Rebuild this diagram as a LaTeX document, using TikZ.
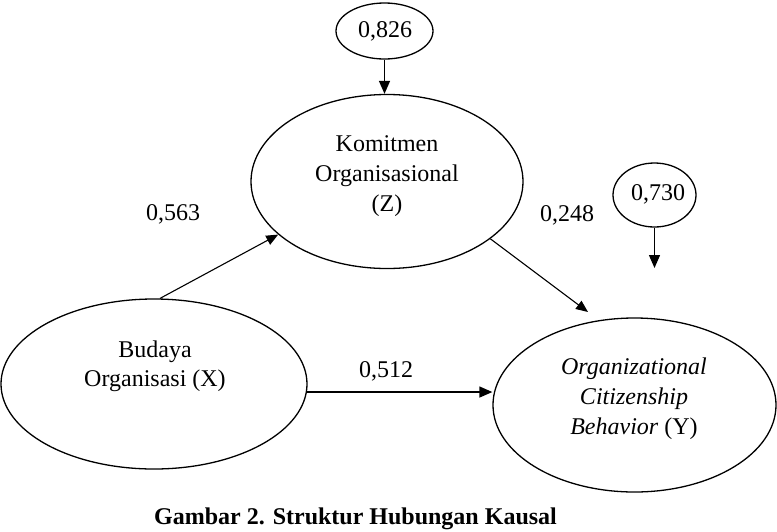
\documentclass[tikz,border=0pt]{standalone}
\usepackage{fontspec}
\setmainfont{Liberation Serif}
\usetikzlibrary{shapes.geometric,arrows.meta,calc}
\begin{document}
\begin{tikzpicture}[x=1pt,y=-1pt,
  ell/.style={draw,ellipse,line width=1.3pt,inner sep=0pt},
  txt/.style={font=\fontsize{24}{30}\selectfont,align=center,inner sep=0pt},
  arr/.style={line width=1.4pt,-{Triangle[length=13pt,width=11pt]}},
  darr/.style={line width=1.1pt,-{Triangle[length=12pt,width=10pt]}}]
\useasboundingbox (0,0) rectangle (777,531);
\node[ell,minimum width=272pt,minimum height=174pt] (Z) at (387,181.5) {};
\node[ell,minimum width=306pt,minimum height=170pt] (X) at (154,384) {};
\node[ell,minimum width=283pt,minimum height=174pt] (Y) at (634.5,405) {};
\node[ell,minimum width=97pt,minimum height=56pt] (E1) at (384.5,31) {};
\node[ell,minimum width=83pt,minimum height=64pt] (E2) at (654.5,195) {};
\node[txt] (tE1) at (385,31) {0,826};
\node[txt] (tE2) at (658,194) {0,730};
\node[txt] (tZ) at (387,176) {Komitmen\\Organisasional\\(Z)};
\node[txt,font=\fontsize{24}{29}\selectfont] (tX) at (155,366) {Budaya\\Organisasi (X)};
\node[txt] (tY) at (634,399) {\textit{Organizational}\\\textit{Citizenship}\\\textit{Behavior} (Y)};
\node[txt] (l1) at (173,214) {0,563};
\node[txt] (l2) at (567,215) {0,248};
\node[txt] (l3) at (386,371) {0,512};
\node[txt,font=\bfseries\fontsize{24}{30}\selectfont,anchor=base] (cap) at (355.5,524) {Gambar 2. Struktur Hubungan Kausal};
\coordinate (c2) at (654.5,268);
\coordinate (cy) at (588,312);
\draw[arr] (E1.south) -- (E1.south |- Z.north);
\draw[arr] (E2.south) -- (c2);
\draw[darr] (X.86) -- (Z.206);
\draw[darr] (Z.331) -- (cy);
\draw[arr] (X.-3.4) -- (X.-3.4 -| Y.west);
\end{tikzpicture}
\end{document}
